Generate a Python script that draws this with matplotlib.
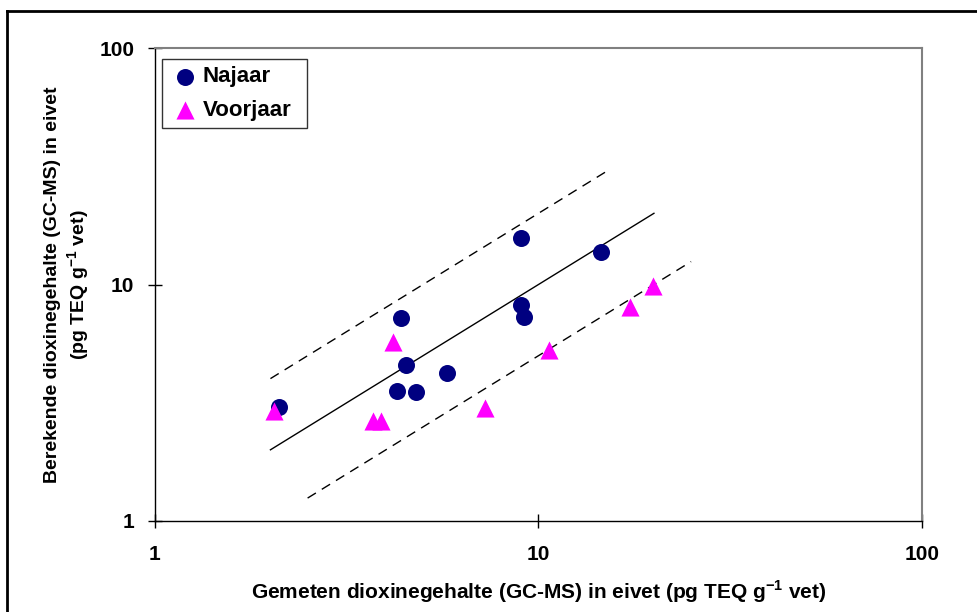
import matplotlib.pyplot as plt
import numpy as np
from matplotlib.lines import Line2D

plt.rcParams['font.family'] = ['Liberation Sans', 'DejaVu Sans']
plt.rcParams['font.weight'] = 'bold'
plt.rcParams['axes.labelweight'] = 'bold'
plt.rcParams['mathtext.fontset'] = 'custom'
plt.rcParams['mathtext.bf'] = 'Liberation Sans:bold'
plt.rcParams['mathtext.rm'] = 'Liberation Sans:bold'

# Najaar (autumn) samples: measured vs calculated
najaar_x = [2.11, 8.99, 14.53, 8.99, 9.18, 4.37, 4.50, 5.78, 4.27, 4.79]
najaar_y = [3.04, 15.7, 13.7, 8.19, 7.31, 7.24, 4.57, 4.24, 3.56, 3.50]

# Voorjaar (spring) samples
voorjaar_x = [2.04, 4.18, 3.71, 3.88, 7.27, 10.67, 17.33, 19.92]
voorjaar_y = [2.93, 5.73, 2.65, 2.65, 3.00, 5.28, 8.05, 9.88]

# 1:1 line and factor-2 bounds
line_x = [2, 20]
line_y = [2, 20]
upper_x = [2, 15]
upper_y = [4, 30]
lower_x = [2.5, 25]
lower_y = [1.25, 12.5]

fig = plt.figure(figsize=(9.78, 6.12), dpi=100)
ax = fig.add_axes([155/978, 1 - 521/612, (922-155)/978, (521-48)/612])

ax.plot(line_x, line_y, color='black', lw=1)
ax.plot(upper_x, upper_y, color='black', lw=1, dashes=(7, 5))
ax.plot(lower_x, lower_y, color='black', lw=1, dashes=(7, 5))

ax.scatter(najaar_x, najaar_y, s=150, marker='o', color='#000080', label='Najaar', zorder=3, linewidths=0)
ax.scatter(voorjaar_x, voorjaar_y, s=170, marker='^', color='#FF00FF', label='Voorjaar', zorder=4, linewidths=0)

ax.set_xscale('log')
ax.set_yscale('log')
ax.set_xlim(1, 100)
ax.set_ylim(1, 100)
ax.set_xticks([1, 10, 100], labels=['1', '10', '100'])
ax.set_yticks([1, 10, 100], labels=['1', '10', '100'])
ax.minorticks_off()
ax.tick_params(direction='inout', length=10, width=1, labelsize=15)
ax.tick_params(axis='x', pad=12)
ax.tick_params(axis='y', pad=10)

for s in ['top', 'right']:
    ax.spines[s].set_color('#808080')
    ax.spines[s].set_linewidth(1.5)
for s in ['left', 'bottom']:
    ax.spines[s].set_color('black')
    ax.spines[s].set_linewidth(1)

leg = ax.legend(loc='upper left', bbox_to_anchor=(0.0091, 0.5, 0.189, 0.4767), mode='expand',
                fontsize=16, frameon=True, fancybox=False, edgecolor='black',
                handletextpad=0.1, borderpad=0.33, labelspacing=0.55, handlelength=1.4,
                borderaxespad=0)
leg.get_frame().set_linewidth(1)

ax.set_xlabel('Gemeten dioxinegehalte (GC-MS) in eivet (pg TEQ g$^{\\mathbf{-1}}$ vet)',
              fontsize=15, fontweight='bold', labelpad=11)
fig.text(68/978, 1 - 285/612,
         'Berekende dioxinegehalte (GC-MS) in eivet\n(pg TEQ g$^{\\mathbf{-1}}$ vet)',
         rotation=90, ha='center', va='center', fontsize=14, fontweight='bold', linespacing=1.18)

# outer chart border (only top and left visible)
fig.add_artist(Line2D([7/978, 1], [1 - 11/612, 1 - 11/612], color='black', lw=2, transform=fig.transFigure))
fig.add_artist(Line2D([7/978, 7/978], [0, 1 - 11/612], color='black', lw=2, transform=fig.transFigure))

fig.savefig('out.png', dpi=100)
